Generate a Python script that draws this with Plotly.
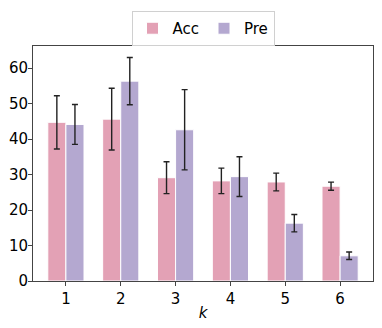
import plotly.graph_objects as go

k = [1, 2, 3, 4, 5, 6]
acc = [44.7, 45.6, 29.1, 28.2, 27.9, 26.7]
acc_err = [7.5, 8.7, 4.5, 3.6, 2.5, 1.15]
pre = [44.1, 56.3, 42.6, 29.4, 16.3, 7.1]
pre_err = [5.6, 6.65, 11.3, 5.6, 2.45, 1.05]

fig = go.Figure()
fig.add_trace(go.Bar(x=k, y=acc, name="Acc",
                     marker=dict(color="#E3A1B5", line=dict(color="white", width=1)),
                     error_y=dict(type="data", array=acc_err, color="#222222", thickness=1.4, width=3)))
fig.add_trace(go.Bar(x=k, y=pre, name="Pre",
                     marker=dict(color="#B4A8D0", line=dict(color="white", width=1)),
                     error_y=dict(type="data", array=pre_err, color="#222222", thickness=1.4, width=3)))

axis_style = dict(showline=True, linecolor="#444444", linewidth=1, mirror=True,
                  ticks="outside", ticklen=4, tickcolor="#444444", showgrid=False,
                  zeroline=False, tickfont=dict(size=15, color="black"))

# page body has an 8px margin, so offsets are shifted by that much
fig.update_layout(
    width=382, height=328,
    margin=dict(l=25, r=17, t=38, b=55, autoexpand=False),
    barmode="group", bargap=0.34, bargroupgap=0,
    plot_bgcolor="white", paper_bgcolor="white",
    font=dict(family="DejaVu Sans", color="black"),
    legend=dict(orientation="h", x=0.5, xanchor="center", y=1.149, yanchor="top",
                bordercolor="#d0d0d0", borderwidth=1, font=dict(size=15),
                itemwidth=30, traceorder="normal"),
    xaxis=dict(range=[0.4, 6.6], tickvals=k, title=dict(text="<i>k</i>", font=dict(size=15), standoff=0), **axis_style),
    yaxis=dict(range=[0, 66.2], tickvals=[0, 10, 20, 30, 40, 50, 60], ticklabelstandoff=-3, **axis_style),
)

fig.write_html("out.html")
